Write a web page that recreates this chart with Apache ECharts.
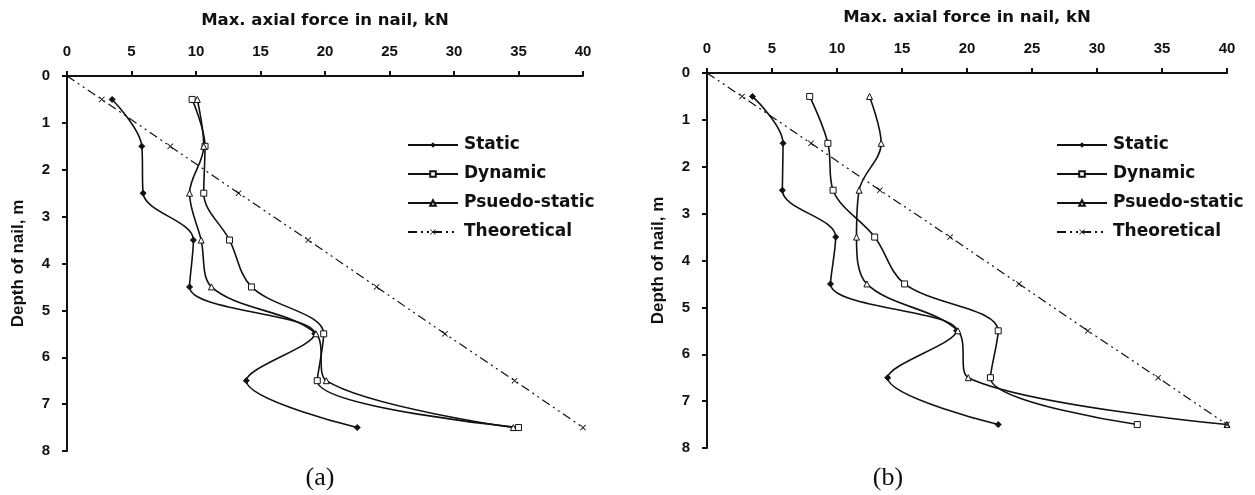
<!DOCTYPE html>
<html>
<head>
<meta charset="utf-8">
<script src="https://cdn.jsdelivr.net/npm/echarts@6/dist/echarts.min.js"></script>
<style>html,body{margin:0;padding:0;background:#fff;}#c{width:1255px;height:495px;}</style>
</head>
<body>
<div id="c"></div>
<script>
var depths = [0.5, 1.5, 2.5, 3.5, 4.5, 5.5, 6.5, 7.5];
var theoDepths = [0, 0.5, 1.5, 2.5, 3.5, 4.5, 5.5, 6.5, 7.5];
var xTicks = [0, 5, 10, 15, 20, 25, 30, 35, 40];

// Chart (a)
var staticA  = [3.5, 5.8, 5.9, 9.8, 9.5, 19.2, 13.9, 22.5];
var dynamicA = [9.7, 10.7, 10.6, 12.6, 14.3, 19.9, 19.4, 35.0];
var pseudoA  = [10.1, 10.6, 9.5, 10.4, 11.2, 19.3, 20.1, 34.6];
var theoA    = [0, 2.7, 8.0, 13.3, 18.7, 24.0, 29.3, 34.7, 40.0];

// Chart (b)
var staticB  = [3.5, 5.85, 5.8, 9.9, 9.5, 19.2, 13.9, 22.4];
var dynamicB = [7.9, 9.3, 9.7, 12.9, 15.2, 22.4, 21.8, 33.1];
var pseudoB  = [12.5, 13.4, 11.7, 11.5, 12.3, 19.3, 20.1, 40.0];
var theoB    = [0, 2.7, 8.0, 13.3, 18.7, 24.0, 29.3, 34.7, 40.0];

var names = ['Static', 'Dynamic', 'Psuedo-static', 'Theoretical'];
var xTitle = 'Max. axial force in nail, kN';
var yTitle = 'Depth of nail, m';

var crossPath = 'path://M0,1L1,0L5,4L9,0L10,1L6,5L10,9L9,10L5,6L1,10L0,9L4,5Z';
var FONT = 'Liberation Sans, Arial, sans-serif';
var WIDE = 'DejaVu Sans, Liberation Sans, sans-serif';

function pairs(vals, ds) { return vals.map(function (v, i) { return [v, ds[i]]; }); }

function makeSeries(idx, s, d, p, t) {
  var base = { type: 'line', xAxisIndex: idx, yAxisIndex: idx, smooth: 0.35, z: 3 };
  return [
    Object.assign({}, base, { name: names[0], data: pairs(s, depths), symbol: 'diamond', symbolSize: 6,
      lineStyle: { color: '#111', width: 1.6 }, itemStyle: { color: '#111', borderColor: '#111' } }),
    Object.assign({}, base, { name: names[1], data: pairs(d, depths), symbol: 'rect', symbolSize: 6,
      lineStyle: { color: '#111', width: 1.6 }, itemStyle: { color: '#fff', borderColor: '#111', borderWidth: 1 } }),
    Object.assign({}, base, { name: names[2], data: pairs(p, depths), symbol: 'triangle', symbolSize: 6,
      lineStyle: { color: '#111', width: 1.6 }, itemStyle: { color: '#fff', borderColor: '#111', borderWidth: 1 } }),
    Object.assign({}, base, { name: names[3], smooth: false, data: pairs(t, theoDepths).map(function (pt, i) {
        return i === 0 ? { value: pt, symbol: 'none' } : { value: pt };
      }), symbol: crossPath, symbolSize: 6,
      lineStyle: { color: '#111', width: 1.2, type: [9, 4, 2, 4, 2, 4] }, itemStyle: { color: '#111' } })
  ];
}

function xAxisCfg(idx) {
  return {
    gridIndex: idx, type: 'value', position: 'top', min: 0, max: 40, interval: 5,
    name: xTitle, nameLocation: 'middle', nameGap: 47,
    nameTextStyle: { fontFamily: WIDE, fontWeight: 'bold', fontSize: 16.5, color: '#111' },
    axisLine: { show: true, lineStyle: { color: '#111', width: 2 } },
    axisTick: { show: true, length: 5, lineStyle: { color: '#111', width: 2 } },
    axisLabel: { margin: 17, fontFamily: FONT, fontWeight: 'bold', fontSize: 15, color: '#111',
      formatter: function (v) { return xTicks.indexOf(v) >= 0 ? String(v) : ''; } },
    splitLine: { show: false }
  };
}
function yAxisCfg(idx) {
  return {
    gridIndex: idx, type: 'value', inverse: true, min: 0, max: 8, interval: 1,
    name: yTitle, nameLocation: 'middle', nameGap: 40, nameRotate: 90,
    nameTextStyle: { fontFamily: FONT, fontWeight: 'bold', fontSize: 17, color: '#111' },
    axisLine: { show: true, onZero: false, lineStyle: { color: '#111', width: 2 } },
    axisTick: { show: true, length: 5, lineStyle: { color: '#111', width: 2 } },
    axisLabel: { margin: 17, fontFamily: FONT, fontWeight: 'bold', fontSize: 15, color: '#111' },
    splitLine: { show: false }
  };
}
function legendCfg(left) {
  return {
    data: names, orient: 'vertical', left: left, top: 131, itemWidth: 50, itemHeight: 7, itemGap: 11,
    textStyle: { fontFamily: WIDE, fontWeight: 'bold', fontSize: 17, lineHeight: 18, color: '#111', padding: [0, 0, 0, 1] },
    selectedMode: false
  };
}

var chart = echarts.init(document.getElementById('c'), null, { renderer: 'canvas' });
chart.setOption({
  backgroundColor: '#fff',
  animation: false,
  grid: [
    { left: 67, top: 76, width: 516, height: 375 },
    { left: 707, top: 73, width: 520, height: 375 }
  ],
  xAxis: [xAxisCfg(0), xAxisCfg(1)],
  yAxis: [yAxisCfg(0), yAxisCfg(1)],
  legend: [legendCfg(402), legendCfg(1051)],
  series: makeSeries(0, staticA, dynamicA, pseudoA, theoA).concat(makeSeries(1, staticB, dynamicB, pseudoB, theoB)),
  graphic: [
    { type: 'text', x: 320, y: 478, style: { text: '(a)', font: '26px "Liberation Serif", "Times New Roman", serif', fill: '#111', align: 'center', verticalAlign: 'middle' } },
    { type: 'text', x: 888, y: 478, style: { text: '(b)', font: '26px "Liberation Serif", "Times New Roman", serif', fill: '#111', align: 'center', verticalAlign: 'middle' } }
  ]
});
</script>
</body>
</html>
